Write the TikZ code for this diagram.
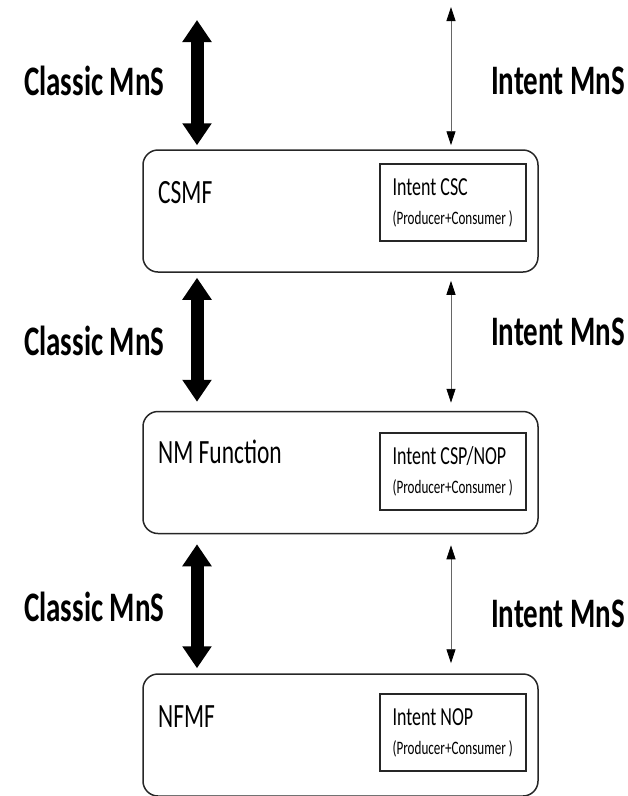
\documentclass[tikz,border=0pt]{standalone}
\usepackage{fontspec}
\setmainfont{Carlito}[FakeStretch=0.69]
\usepackage{tikz}
\usetikzlibrary{arrows.meta, positioning}
\tikzstyle{mfbox}=[draw=black!85, line width=1.5pt, rounded corners=15pt, minimum width=395pt, minimum height=122pt]
\tikzstyle{intentbox}=[draw=black!85, line width=2pt, minimum width=146pt, minimum height=77pt, inner sep=0pt, align=left, font=\fontsize{26}{29}\selectfont]
\tikzstyle{mftitle}=[anchor=base west, inner sep=0pt, font=\fontsize{34}{36}\selectfont]
\tikzstyle{mns}=[anchor=base west, inner sep=0pt, font=\bfseries\fontsize{42}{46}\selectfont]
\tikzstyle{classic}=[line width=13pt, {Triangle[width=28pt,length=22pt]}-{Triangle[width=28pt,length=22pt]}]
\tikzstyle{intent}=[line width=0.8pt, draw=black!60, {Triangle[width=9pt,length=14pt,color=black]}-{Triangle[width=9pt,length=14pt,color=black]}]
\newcommand{\prodcons}{{\fontsize{19}{20}\selectfont (Producer+Consumer )}}

\begin{document}
\begin{tikzpicture}[x=1pt, y=-1pt]
    \useasboundingbox (0,0) rectangle (628,796);

    % functions
    \node[mfbox] (csmf) at (340.5,211)   {};
    \node[mfbox] (nmf)  at (340.5,472.5) {};
    \node[mfbox] (nfmf) at (340.5,735)   {};
    \node[mftitle] (csmf-t) at (158,203) {CSMF};
    \node[mftitle] (nmf-t)  at (158,463) {NM Function};
    \node[mftitle] (nfmf-t) at (158,727) {NFMF};

    \node[intentbox, left=12pt of csmf.east, yshift=8.5pt] (csc) {Intent CSC\\\prodcons};
    \node[intentbox, left=12pt of nmf.east, yshift=1.5pt]  (csp) {Intent CSP/NOP\\\prodcons};
    \node[intentbox, left=12pt of nfmf.east, yshift=2.5pt] (nop) {Intent NOP\\\prodcons};

    % arrow columns
    \coordinate (cl) at (197,20);
    \coordinate (il) at (451,7);

    \draw[classic, shorten >=4pt] (cl) -- (csmf.north -| cl);
    \draw[classic, shorten <=5pt, shorten >=9pt] (csmf.south -| cl) -- (nmf.north -| cl);
    \draw[classic, shorten <=10pt, shorten >=5pt] (nmf.south -| cl) -- (nfmf.north -| cl);

    \draw[intent, shorten >=4pt] (il) -- (csmf.north -| il);
    \draw[intent, shorten <=8pt, shorten >=8pt] (csmf.south -| il) -- (nmf.north -| il);
    \draw[intent, shorten <=11pt, shorten >=10pt] (nmf.south -| il) -- (nfmf.north -| il);

    % labels
    \node[mns] (classic1) at (24,95)  {Classic MnS};
    \node[mns] (classic2) at (24,355) {Classic MnS};
    \node[mns] (classic3) at (24,621) {Classic MnS};
    \node[mns] (intent1) at (491,94)  {Intent MnS};
    \node[mns] (intent2) at (491,345) {Intent MnS};
    \node[mns] (intent3) at (491,627) {Intent MnS};
\end{tikzpicture}
\end{document}
